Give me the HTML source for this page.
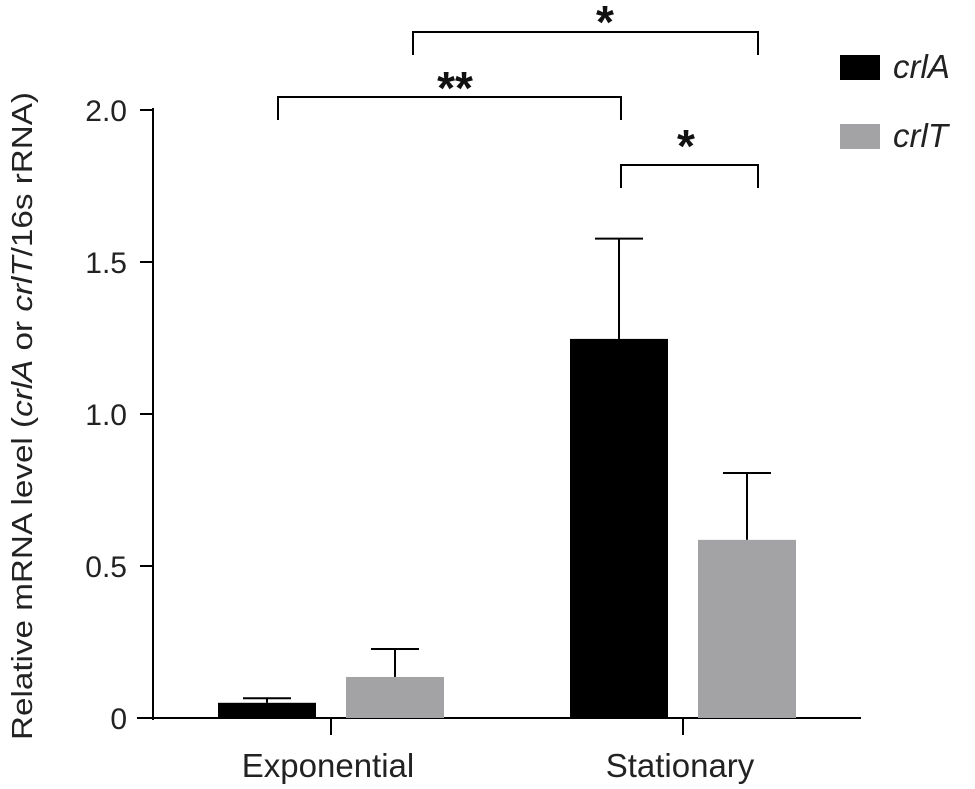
<!DOCTYPE html>
<html><head><meta charset="utf-8"><style>body{margin:0;background:#fff}svg{display:block;font-family:"Liberation Sans",sans-serif}</style></head>
<body>
<svg id="c" width="975" height="789"></svg>
<script>
const categories=["Exponential","Stationary"];
const seriesNames=["crlA","crlT"];
const crlAValues=[0.05,1.247];
const crlAErrors=[0.015,0.33];
const crlTValues=[0.135,0.586];
const crlTErrors=[0.092,0.22];
const yTicks=[0,0.5,1.0,1.5,2.0];
const yTickLabels=["0","0.5","1.0","1.5","2.0"];
const NS="http://www.w3.org/2000/svg";
const svg=document.getElementById('c');
function y(v){return 718-v*304;}
function xc(i){return 331+i*352;}
function add(tag,attrs,txt){const e=document.createElementNS(NS,tag);for(const k in attrs)e.setAttribute(k,attrs[k]);if(txt!==undefined)e.textContent=txt;svg.appendChild(e);return e;}
let e;
e=add('line',{x1:153,y1:108,x2:153,y2:720,stroke:'#000','stroke-width':2});


e=add('line',{x1:137,y1:718,x2:861,y2:718,stroke:'#000','stroke-width':2});


yTicks.forEach((t,i)=>{
 e=add('line',{x1:140,y1:y(t),x2:153,y2:y(t),stroke:'#000','stroke-width':2});
 
 
 e=add('text',{x:127,y:y(t)+11,'text-anchor':'end','font-size':30,fill:'#222'},yTickLabels[i]);
 
 
});
categories.forEach((c,i)=>{
 e=add('line',{x1:xc(i),y1:718,x2:xc(i),y2:735,stroke:'#000','stroke-width':2});
 
 
 e=add('text',{x:xc(i)-3,y:777,'text-anchor':'middle','font-size':33,fill:'#222'},c);
 
 
});
const sets=[[crlAValues,crlAErrors,'#000',-1],[crlTValues,crlTErrors,'#a3a3a5',1]];
sets.forEach(([vals,errs,col,side],s)=>{
 vals.forEach((v,i)=>{
  const x0=side<0?xc(i)-113:xc(i)+15;
  const cx=x0+49;
  e=add('line',{x1:cx,y1:y(v),x2:cx,y2:y(v+errs[i]),stroke:'#000','stroke-width':2});
  
  
  e=add('line',{x1:cx-24,y1:y(v+errs[i]),x2:cx+24,y2:y(v+errs[i]),stroke:'#000','stroke-width':2});
  
  
  e=add('rect',{x:x0,y:y(v),width:98,height:718-y(v),fill:col});
  
  
 });
});
const brackets=[[413,758,32,'*',605,16],[278,621,97,'**',455,82],[621,758,165,'*',686,140]];
brackets.forEach(([a,b,t,s,sx,sy])=>{
 e=add('path',{d:`M${a} ${t+23}V${t}H${b}V${t+23}`,fill:'none',stroke:'#000','stroke-width':2});
 
 
 e=add('text',{x:sx,y:sy+22,'text-anchor':'middle','font-size':46,'font-weight':'bold',fill:'#111'},s);
 
 
});
[['#000',67],['#a3a3a5',136]].forEach(([col,cy],i)=>{
 e=add('rect',{x:840,y:cy-12,width:40,height:25,fill:col});
 
 
 e=add('text',{x:893,y:cy+11,'font-size':33,'font-style':'italic',fill:'#222'},seriesNames[i]);
 
 
});
e=add('text',{transform:'translate(32,416) rotate(-90)','text-anchor':'middle','font-size':29,fill:'#222',textLength:648,lengthAdjust:'spacingAndGlyphs'});


e.innerHTML='Relative mRNA level (<tspan font-style="italic">crlA</tspan> or <tspan font-style="italic">crlT</tspan>/16s rRNA)';
</script>
</body></html>
